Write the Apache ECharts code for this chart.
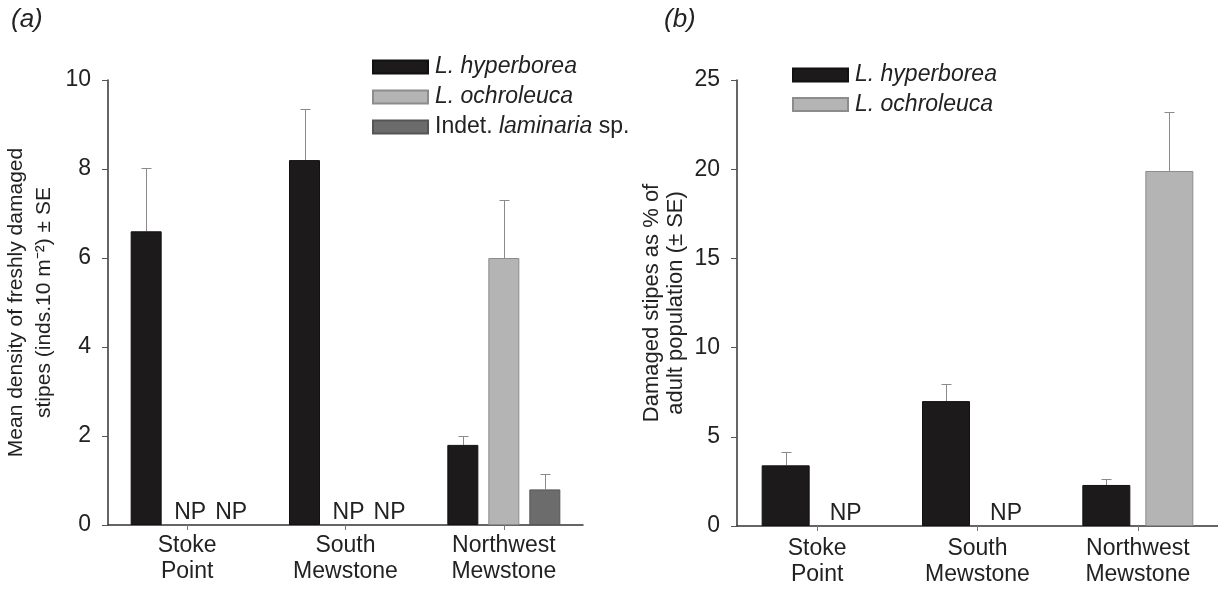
<!DOCTYPE html>
<html><head><meta charset="utf-8">
<script src="https://cdn.jsdelivr.net/npm/echarts@6/dist/echarts.min.js"></script>
<style>html,body{margin:0;padding:0;background:#fff}#c{width:1218px;height:594px}</style>
</head><body><div id="c"></div>
<script>
const categories = ['Stoke\nPoint', 'South\nMewstone', 'Northwest\nMewstone'];
const seriesNames = ['L. hyperborea', 'L. ochroleuca', 'Indet. laminaria sp.'];
// Panel (a): mean density of freshly damaged stipes
const aHyper = [6.6, 8.2, 1.8];
const aHyperSE = [1.43, 1.15, 0.2];
const aOchro = [null, null, 6.0];
const aOchroSE = [null, null, 1.3];
const aIndet = [null, null, 0.8];
const aIndetSE = [null, null, 0.35];
const aNP = [[0, 1], [0, 2], [1, 1], [1, 2]]; // [category, slot]
const aTicks = [0, 2, 4, 6, 8, 10];
// Panel (b): damaged stipes as % of adult population
const bHyper = [3.4, 7.0, 2.3];
const bHyperSE = [0.75, 0.95, 0.35];
const bOchro = [null, null, 19.9];
const bOchroSE = [null, null, 3.3];
const bNP = [[0, 1], [1, 1]];
const bTicks = [0, 5, 10, 15, 20, 25];

const FONT = "'Liberation Sans', Arial, sans-serif";
const FS = 23;
const TXT = '#222';
const colors = { hyper: '#1c1a1a', ochro: '#b4b4b4', indet: '#6c6c6c' };

function errData(vals, se) {
  return vals.map((v, i) => v == null ? null : [i, v, v + se[i]]).filter(d => d);
}
function errRender(offset) {
  return function (params, api) {
    const base = api.coord([api.value(0), api.value(1)]);
    const top = api.coord([api.value(0), api.value(2)]);
    const x = Math.round(base[0] + offset) + 0.5;
    const yt = Math.round(top[1]) + 0.5;
    const st = { stroke: '#8a8a8a', lineWidth: 1 };
    return { type: 'group', children: [
      { type: 'line', shape: { x1: x, y1: base[1], x2: x, y2: yt }, style: st },
      { type: 'line', shape: { x1: x - 5, y1: yt, x2: x + 5, y2: yt }, style: st }
    ]};
  };
}
function npRender(step, n, shift) {
  return function (params, api) {
    const p = api.coord([api.value(0), 0]);
    const x = p[0] + (api.value(1) - (n - 1) / 2) * step + shift;
    return { type: 'text', style: { x: x, y: p[1] - 1, text: 'NP', fill: TXT,
      font: FS + 'px ' + FONT, textAlign: 'center', textVerticalAlign: 'bottom' } };
  };
}

const wA = 31, gA = 10, wB = 48, gB = 15;
const stepA = wA + gA, stepB = wB + gB;

function yAxis(grid, ticks, name, gap, nfs, nlh) {
  return {
    type: 'value', gridIndex: grid, min: ticks[0], max: ticks[ticks.length - 1],
    interval: ticks[1] - ticks[0],
    name: name, nameLocation: 'middle', nameRotate: 90, nameGap: gap,
    nameTextStyle: { fontFamily: FONT, fontSize: nfs, color: TXT, lineHeight: nlh, align: 'center' },
    axisLine: { show: true, lineStyle: { color: '#333', width: 1.5 } },
    axisTick: { show: true, length: 6, lineStyle: { color: '#555' } },
    axisLabel: { fontFamily: FONT, fontSize: FS, color: TXT, margin: 17 },
    splitLine: { show: false }
  };
}
function xAxis(grid, margin) {
  return {
    type: 'category', gridIndex: grid, data: categories,
    axisLine: { show: true, lineStyle: { color: '#333', width: 1.5 } },
    axisTick: { show: true, alignWithLabel: true, length: 5, lineStyle: { color: '#777' } },
    axisLabel: { fontFamily: FONT, fontSize: FS, color: TXT, lineHeight: 26, margin: margin }
  };
}

const legendText = {
  fontFamily: FONT, fontSize: FS, color: TXT, lineHeight: 24, padding: [0, 0, 0, 2],
  rich: { i: { fontFamily: FONT, fontSize: FS, fontStyle: 'italic', color: TXT, lineHeight: 24 },
          n: { fontFamily: FONT, fontSize: FS, color: TXT, lineHeight: 24 } }
};
function legendFmt(name) {
  if (name === 'Indet. laminaria sp.') return '{n|Indet. }{i|laminaria}{n| sp.}';
  return '{i|' + name + '}';
}

const option = {
  backgroundColor: '#fff',
  animation: false,
  textStyle: { fontFamily: FONT },
  graphic: [
    { type: 'text', left: 11, top: 7, style: { text: '(a)', font: 'italic 26px ' + FONT, fill: TXT } },
    { type: 'text', left: 664, top: 7, style: { text: '(b)', font: 'italic 26px ' + FONT, fill: TXT } }
  ],
  legend: [
    { orient: 'vertical', left: 367, top: 50, itemWidth: 55, itemHeight: 13, itemGap: 6, icon: 'rect',
      data: seriesNames, formatter: legendFmt, textStyle: legendText, selectedMode: false },
    { orient: 'vertical', left: 787, top: 58, itemWidth: 55, itemHeight: 13, itemGap: 5.5, icon: 'rect',
      data: [{ name: 'L. hyperborea' }, { name: 'L. ochroleuca' }], formatter: legendFmt,
      textStyle: legendText, selectedMode: false }
  ],
  grid: [
    { left: 108, top: 80, width: 475, height: 445 },
    { left: 737, top: 80, width: 482, height: 446 }
  ],
  xAxis: [xAxis(0, 8), xAxis(1, 10)],
  yAxis: [
    yAxis(0, aTicks, 'Mean density of freshly damaged\nstipes (inds.10 m\u207B\u00B2) \u00B1 SE', 50, 21, 28),
    yAxis(1, bTicks, 'Damaged stipes as % of\nadult population (\u00B1 SE)', 49, 22, 24)
  ],
  series: [
    { name: seriesNames[0], type: 'bar', xAxisIndex: 0, yAxisIndex: 0, data: aHyper,
      barWidth: wA, barGap: (gA / wA * 100) + '%',
      itemStyle: { color: colors.hyper, borderColor: '#111', borderWidth: 1 } },
    { name: seriesNames[1], type: 'bar', xAxisIndex: 0, yAxisIndex: 0, data: aOchro,
      barWidth: wA, barGap: (gA / wA * 100) + '%',
      itemStyle: { color: colors.ochro, borderColor: '#8c8c8c', borderWidth: 1 } },
    { name: seriesNames[2], type: 'bar', xAxisIndex: 0, yAxisIndex: 0, data: aIndet,
      barWidth: wA, barGap: (gA / wA * 100) + '%',
      itemStyle: { color: colors.indet, borderColor: '#555', borderWidth: 1 } },
    { type: 'custom', xAxisIndex: 0, yAxisIndex: 0, data: errData(aHyper, aHyperSE), renderItem: errRender(-stepA), z: 1 },
    { type: 'custom', xAxisIndex: 0, yAxisIndex: 0, data: errData(aOchro, aOchroSE), renderItem: errRender(0), z: 1 },
    { type: 'custom', xAxisIndex: 0, yAxisIndex: 0, data: errData(aIndet, aIndetSE), renderItem: errRender(stepA), z: 1 },
    { type: 'custom', xAxisIndex: 0, yAxisIndex: 0, data: aNP, renderItem: npRender(stepA, 3, 3) },

    { name: seriesNames[0], type: 'bar', xAxisIndex: 1, yAxisIndex: 1, data: bHyper,
      barWidth: wB, barGap: (gB / wB * 100) + '%',
      itemStyle: { color: colors.hyper, borderColor: '#111', borderWidth: 1 } },
    { name: seriesNames[1], type: 'bar', xAxisIndex: 1, yAxisIndex: 1, data: bOchro,
      barWidth: wB, barGap: (gB / wB * 100) + '%',
      itemStyle: { color: colors.ochro, borderColor: '#8c8c8c', borderWidth: 1 } },
    { type: 'custom', xAxisIndex: 1, yAxisIndex: 1, data: errData(bHyper, bHyperSE), renderItem: errRender(-stepB / 2), z: 1 },
    { type: 'custom', xAxisIndex: 1, yAxisIndex: 1, data: errData(bOchro, bOchroSE), renderItem: errRender(stepB / 2), z: 1 },
    { type: 'custom', xAxisIndex: 1, yAxisIndex: 1, data: bNP, renderItem: npRender(stepB, 2, -3) }
  ]
};
echarts.init(document.getElementById('c')).setOption(option);
</script></body></html>
